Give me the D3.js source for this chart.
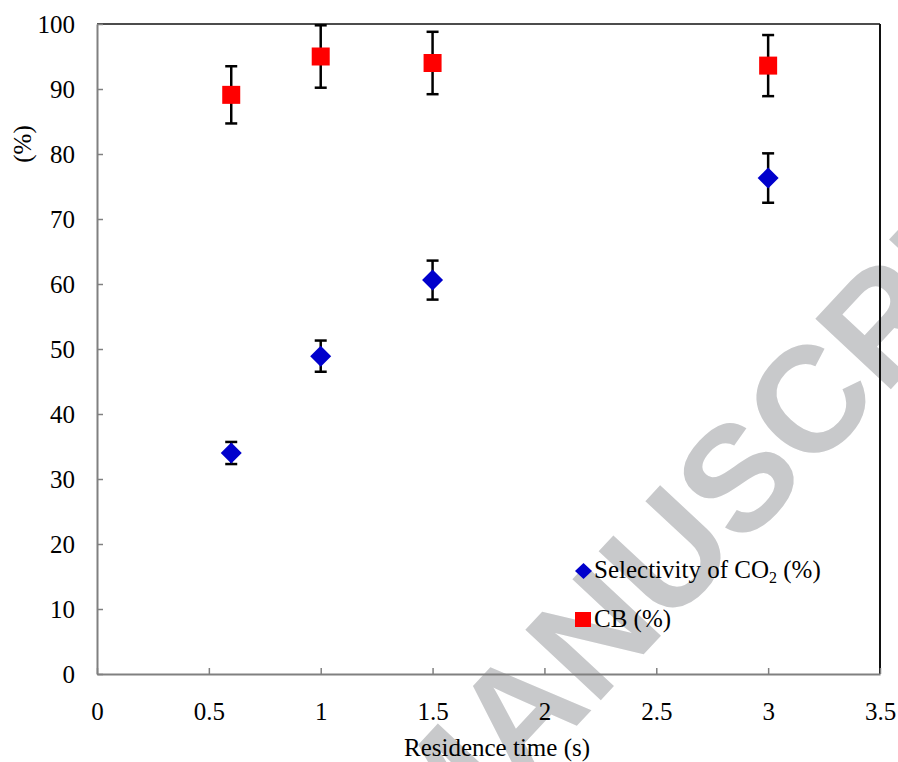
<!DOCTYPE html>
<html><head><meta charset="utf-8">
<script src="https://cdn.jsdelivr.net/npm/d3@7/dist/d3.min.js"></script>
<style>html,body{margin:0;padding:0;background:#fff;}svg{display:block;}</style>
</head><body>
<svg id="chart" width="898" height="762"></svg>
<script>
const residence = [0.6, 1.0, 1.5, 3.0];
const selectivity = [34.0, 48.9, 60.6, 76.3];
const selectivityErr = [1.7, 2.4, 3.0, 3.8];
const cb = [89.1, 95.0, 94.0, 93.6];
const cbErr = [4.4, 4.8, 4.8, 4.7];
const xTicks = [0, 0.5, 1, 1.5, 2, 2.5, 3, 3.5];
const yTicks = [0, 10, 20, 30, 40, 50, 60, 70, 80, 90, 100];
const xTitle = "Residence time (s)";
const yTitle = "(%)";
const watermark = "MANUSCRIPT";

const svg = d3.select("#chart");
const L = 97, R = 880, T = 24, B = 674;
const x = d3.scaleLinear().domain([0, 3.5]).range([L, R]);
const y = d3.scaleLinear().domain([0, 100]).range([B, T]);
const serif = "'Liberation Serif','Times New Roman',serif";
const fs = 25;

// watermark (behind)
svg.append("text")
  .attr("transform", "translate(435,878) rotate(-47)")
  .attr("font-family", "'Liberation Sans',Arial,sans-serif")
  .attr("font-weight", "bold")
  .attr("font-size", 150)
  .attr("fill", "#c8c9cb")
  .text(watermark);

// frame: top & right black
svg.append("line").attr("x1", L).attr("x2", R).attr("y1", T).attr("y2", T)
  .attr("stroke", "#111").attr("stroke-width", 1.5);
svg.append("line").attr("x1", R).attr("x2", R).attr("y1", T).attr("y2", B)
  .attr("stroke", "#111").attr("stroke-width", 2);

// axes
const xAxis = svg.append("g").attr("transform", `translate(0,${B})`)
  .call(d3.axisBottom(x).tickValues(xTicks).tickSizeInner(-6).tickSizeOuter(0).tickPadding(46).tickFormat(d3.format("")));
const yAxis = svg.append("g").attr("transform", `translate(${L},0)`)
  .call(d3.axisLeft(y).tickValues(yTicks).tickSizeInner(-6).tickSizeOuter(0).tickPadding(22));
[xAxis, yAxis].forEach(g => {
  g.select(".domain").attr("stroke", "#808080").attr("stroke-width", 2);
  g.selectAll(".tick line").attr("stroke", "#808080").attr("stroke-width", 1.5);
  g.selectAll(".tick text").attr("font-family", serif).attr("font-size", fs).attr("fill", "#000");
});
xAxis.selectAll(".tick text").attr("dy", "0");
yAxis.selectAll(".tick text").attr("dy", "0.33em");

// titles
svg.append("text").attr("x", 497).attr("y", 756).attr("text-anchor", "middle")
  .attr("font-family", serif).attr("font-size", fs).text(xTitle);
svg.append("text").attr("transform", "translate(31,144) rotate(-90)").attr("text-anchor", "middle")
  .attr("font-family", serif).attr("font-size", fs).text(yTitle);

// error bars
function errBars(vals, errs) {
  const g = svg.append("g").attr("stroke", "#000").attr("stroke-width", 2.5);
  residence.forEach((r, i) => {
    const cx = x(r);
    g.append("line").attr("x1", cx).attr("x2", cx).attr("y1", y(vals[i] + errs[i])).attr("y2", y(vals[i] - errs[i]));
    [vals[i] + errs[i], vals[i] - errs[i]].forEach(v => {
      g.append("line").attr("x1", cx - 6).attr("x2", cx + 6).attr("y1", y(v)).attr("y2", y(v));
    });
  });
}
errBars(cb, cbErr);
errBars(selectivity, selectivityErr);

// markers
svg.append("g").selectAll("rect").data(residence).join("rect")
  .attr("x", d => x(d) - 9).attr("y", (d, i) => y(cb[i]) - 9)
  .attr("width", 18).attr("height", 18).attr("fill", "#ff0000");
svg.append("g").selectAll("path").data(residence).join("path")
  .attr("d", (d, i) => { const cx = x(d), cy = y(selectivity[i]), r = 10.5;
    return `M${cx},${cy - r}L${cx + r},${cy}L${cx},${cy + r}L${cx - r},${cy}Z`; })
  .attr("fill", "#0000cc");

// legend
const lg = svg.append("g");
lg.append("path").attr("d", "M583.5,563L592,571L583.5,579L575,571Z").attr("fill", "#0000cc");
const t1 = lg.append("text").attr("x", 594).attr("y", 578).attr("font-family", serif).attr("font-size", fs);
t1.append("tspan").text("Selectivity of CO");
t1.append("tspan").attr("font-size", 16).attr("dy", 5).text("2");
t1.append("tspan").attr("dy", -5).text(" (%)");
lg.append("rect").attr("x", 575).attr("y", 612).attr("width", 16).attr("height", 15).attr("fill", "#ff0000");
lg.append("text").attr("x", 594).attr("y", 627).attr("font-family", serif).attr("font-size", fs).text("CB (%)");
</script>
</body></html>
